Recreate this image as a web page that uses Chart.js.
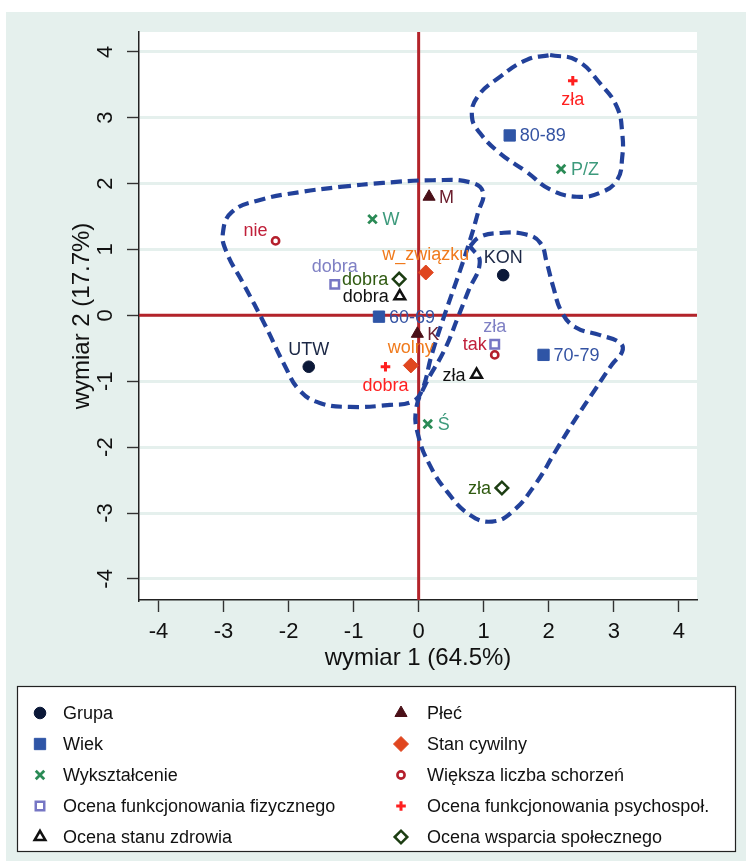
<!DOCTYPE html>
<html><head><meta charset="utf-8">
<script src="https://cdn.jsdelivr.net/npm/chart.js@4.4.1/dist/chart.umd.min.js"></script>
<style>html,body{margin:0;padding:0;background:#fff}</style>
</head><body>
<canvas id="c" width="746" height="861"></canvas>
<script>
// ---------------- DATA ----------------
const xTicks = [-4, -3, -2, -1, 0, 1, 2, 3, 4];
const yTicks = [-4, -3, -2, -1, 0, 1, 2, 3, 4];
const xTitle = 'wymiar 1 (64.5%)';
const yTitle = 'wymiar 2 (17.7%)';

const seriesNames = ['Grupa', 'Wiek', 'Wykształcenie', 'Ocena funkcjonowania fizycznego', 'Ocena stanu zdrowia',
  'Płeć', 'Stan cywilny', 'Większa liczba schorzeń', 'Ocena funkcjonowania psychospoł.', 'Ocena wsparcia społecznego'];

const grupaCats = ['UTW', 'KON'];
const grupaX = [-1.69, 1.30];
const grupaY = [-0.78, 0.61];

const wiekCats = ['80-89', '60-69', '70-79'];
const wiekX = [1.40, -0.61, 1.92];
const wiekY = [2.73, -0.02, -0.60];

const wyksztCats = ['W', 'P/Z', 'Ś'];
const wyksztX = [-0.71, 2.19, 0.14];
const wyksztY = [1.46, 2.22, -1.65];

const fizCats = ['dobra', 'zła'];
const fizX = [-1.29, 1.17];
const fizY = [0.47, -0.44];

const zdrowieCats = ['dobra', 'zła'];
const zdrowieX = [-0.29, 0.89];
const zdrowieY = [0.29, -0.90];

const plecCats = ['M', 'K'];
const plecX = [0.16, -0.02];
const plecY = [1.80, -0.28];

const stanCats = ['w_związku', 'wolny'];
const stanX = [0.11, -0.12];
const stanY = [0.65, -0.76];

const schorzenCats = ['nie', 'tak'];
const schorzenX = [-2.20, 1.17];
const schorzenY = [1.13, -0.60];

const psychCats = ['zła', 'dobra'];
const psychX = [2.37, -0.51];
const psychY = [3.56, -0.78];

const wsparcieCats = ['dobra', 'zła'];
const wsparcieX = [-0.30, 1.28];
const wsparcieY = [0.55, -2.62];

// hand-drawn cluster outlines (data units)
const clusterAX = [-1.21, -0.55, 0.22, 0.79, 0.99, 0.91, 0.79, 0.64, 0.40, 0.20, 0.05, -0.10, -0.44, -1.06, -1.52, -1.83, -2.06, -2.36, -2.70, -2.95, -3.01, -2.87, -2.44, -1.83, -1.21];
const clusterAY = [1.95, 2.01, 2.05, 2.02, 1.87, 1.55, 1.14, 0.69, 0.01, -0.60, -1.14, -1.31, -1.36, -1.39, -1.33, -1.14, -0.76, -0.15, 0.49, 0.95, 1.25, 1.57, 1.75, 1.87, 1.95];
const clusterBX = [0.79, 0.94, 1.25, 1.64, 1.87, 1.97, 2.07, 2.20, 2.41, 2.79, 3.10, 3.13, 2.97, 2.71, 2.40, 2.10, 1.79, 1.44, 1.13, 0.79, 0.44, 0.17, -0.01, -0.04, 0.10, 0.40, 0.60, 0.76, 0.94, 0.79];
const clusterBY = [1.05, 1.19, 1.25, 1.23, 1.10, 0.80, 0.43, 0.05, -0.18, -0.30, -0.42, -0.55, -0.75, -1.13, -1.59, -2.07, -2.57, -2.98, -3.13, -3.03, -2.68, -2.27, -1.81, -1.43, -1.06, -0.52, -0.04, 0.36, 0.81, 1.05];
const clusterCX = [2.02, 2.43, 2.79, 3.05, 3.13, 3.13, 3.05, 2.79, 2.43, 2.02, 1.67, 1.25, 0.94, 0.82, 0.90, 1.25, 1.67, 2.02];
const clusterCY = [3.95, 3.87, 3.52, 3.16, 2.77, 2.40, 2.05, 1.86, 1.80, 1.91, 2.17, 2.46, 2.77, 3.01, 3.31, 3.62, 3.88, 3.95];

// ---------------- STYLES ----------------
const FONT = '"Liberation Sans", Arial, Helvetica, sans-serif';
const TEAL = '#e5f0ed';
const PLACE = {
  right: {align: 'left', dx: 10, dy: 1},
  left: {align: 'right', dx: -11, dy: 1},
  above: {align: 'center', dx: 0, dy: -17},
  below: {align: 'center', dx: 0, dy: 19},
  upleft: {align: 'right', dx: -8, dy: -10}
};
const series = [
  {cats: grupaCats, xs: grupaX, ys: grupaY, style: 'circle', r: 5.8, bw: 1, fill: '#0b1838', stroke: '#0b1838', label: '#1b2745', place: ['above', 'above']},
  {cats: wiekCats, xs: wiekX, ys: wiekY, style: 'rect', r: 8, bw: 1, fill: '#2f55a6', stroke: '#2f55a6', label: '#3453a3', place: ['right', 'right', 'right']},
  {cats: wyksztCats, xs: wyksztX, ys: wyksztY, style: 'crossRot', r: 6, bw: 2.8, fill: '#2a8a55', stroke: '#2a8a55', label: '#3d9a7c', place: ['right', 'right', 'right']},
  {cats: fizCats, xs: fizX, ys: fizY, style: 'rect', r: 6, bw: 2.5, fill: '#ffffff', stroke: '#7676c4', label: '#7f80c4', place: ['above', 'above']},
  {cats: zdrowieCats, xs: zdrowieX, ys: zdrowieY, style: 'triangle', r: 6.2, bw: 2.5, fill: '#ffffff', stroke: '#111111', label: '#111111', place: ['left', 'left']},
  {cats: plecCats, xs: plecX, ys: plecY, style: 'triangle', r: 7, bw: 1, fill: '#4a1018', stroke: '#4a1018', label: '#6a1c2c', place: ['right', 'right']},
  {cats: stanCats, xs: stanX, ys: stanY, style: 'rectRot', r: 7.5, bw: 1, fill: '#e0461f', stroke: '#e0461f', label: '#f07a1c', place: ['above', 'above']},
  {cats: schorzenCats, xs: schorzenX, ys: schorzenY, style: 'circle', r: 3.6, bw: 2.6, fill: '#ffffff', stroke: '#b41f2c', label: '#c0203a', place: ['upleft', 'upleft']},
  {cats: psychCats, xs: psychX, ys: psychY, style: 'cross', r: 4.8, bw: 3, fill: '#ff1f1f', stroke: '#ff1f1f', label: '#ff2020', place: ['below', 'below']},
  {cats: wsparcieCats, xs: wsparcieX, ys: wsparcieY, style: 'rectRot', r: 6.3, bw: 2.5, fill: '#ffffff', stroke: '#1c3d12', label: '#2f5a10', place: ['left', 'left']}
];
const clusters = [[clusterAX, clusterAY], [clusterBX, clusterBY], [clusterCX, clusterCY]];

const pointDatasets = series.map((s, i) => ({
  label: seriesNames[i],
  data: s.xs.map((x, j) => ({x: x, y: s.ys[j]})),
  pointStyle: s.style, pointRadius: s.r, pointBorderWidth: s.bw,
  pointBackgroundColor: s.fill, pointBorderColor: s.stroke,
  backgroundColor: s.fill, borderColor: s.stroke, showLine: false
}));
const clusterDatasets = clusters.map(c => ({
  label: 'cluster',
  data: c[0].map((x, j) => ({x: x, y: c[1][j]})),
  showLine: true, pointRadius: 0, borderColor: '#22419a', borderWidth: 4.2,
  borderDash: [11, 6], tension: 0.45, fill: false, borderCapStyle: 'butt'
}));

// ---------------- PLUGINS ----------------
const bgPlugin = {
  id: 'bg',
  beforeDraw(chart) {
    const {ctx, chartArea: a} = chart;
    ctx.save();
    ctx.fillStyle = '#ffffff'; ctx.fillRect(0, 0, chart.width, chart.height);
    ctx.fillStyle = TEAL; ctx.fillRect(6, 12, chart.width - 6, chart.height - 12);
    ctx.fillStyle = '#ffffff'; ctx.fillRect(a.left, a.top, a.right - a.left, a.bottom - a.top);
    ctx.restore();
  },
  beforeDatasetsDraw(chart) {
    const {ctx, chartArea: a, scales} = chart;
    const x0 = scales.x.getPixelForValue(0), y0 = scales.y.getPixelForValue(0);
    ctx.save();
    ctx.strokeStyle = '#b3232a'; ctx.lineWidth = 3;
    ctx.beginPath(); ctx.moveTo(x0, a.top); ctx.lineTo(x0, a.bottom); ctx.stroke();
    ctx.beginPath(); ctx.moveTo(a.left, y0); ctx.lineTo(a.right, y0); ctx.stroke();
    ctx.restore();
  },
  afterDatasetsDraw(chart) {
    const ctx = chart.ctx;
    ctx.save();
    ctx.font = '18px ' + FONT;
    ctx.textBaseline = 'middle';
    series.forEach((s, i) => {
      const meta = chart.getDatasetMeta(i);
      meta.data.forEach((pt, j) => {
        const p = PLACE[s.place[j]];
        ctx.fillStyle = s.label;
        ctx.textAlign = p.align;
        ctx.fillText(s.cats[j], pt.x + p.dx, pt.y + p.dy);
      });
    });
    ctx.restore();
  },
  afterDraw(chart) {
    const {ctx, chartArea: a, scales} = chart;
    ctx.save();
    // y tick labels (rotated)
    ctx.fillStyle = '#111'; ctx.font = '22px ' + FONT;
    ctx.textAlign = 'center'; ctx.textBaseline = 'middle';
    yTicks.forEach(v => {
      const py = scales.y.getPixelForValue(v);
      ctx.save(); ctx.translate(106, py); ctx.rotate(-Math.PI / 2);
      ctx.fillText(String(v), 0, 0); ctx.restore();
    });
    // axis titles
    ctx.font = '24px ' + FONT;
    ctx.fillText(xTitle, (a.left + a.right) / 2, 658);
    ctx.save(); ctx.translate(82, (a.top + a.bottom) / 2); ctx.rotate(-Math.PI / 2);
    ctx.fillText(yTitle, 0, 0); ctx.restore();
    // legend
    const L = {x: 17, y: 686, w: 718, h: 165};
    ctx.fillStyle = '#ffffff'; ctx.fillRect(L.x, L.y, L.w, L.h);
    ctx.strokeStyle = '#222'; ctx.lineWidth = 1.2; ctx.strokeRect(L.x + 0.5, L.y + 0.5, L.w, L.h);
    ctx.font = '18px ' + FONT; ctx.textAlign = 'left'; ctx.textBaseline = 'middle';
    series.forEach((s, i) => {
      const col = i < 5 ? 0 : 1, row = i % 5;
      const mx = col === 0 ? 40 : 401, tx = col === 0 ? 63 : 427;
      const my = 713 + row * 31;
      ctx.fillStyle = s.fill; ctx.strokeStyle = s.stroke; ctx.lineWidth = s.bw;
      Chart.helpers.drawPoint(ctx, {pointStyle: s.style, radius: s.r, rotation: 0, borderWidth: s.bw}, mx, my);
      ctx.fillStyle = '#111';
      ctx.fillText(seriesNames[i], tx, my + 1);
    });
    ctx.restore();
  }
};

// ---------------- CHART ----------------
new Chart(document.getElementById('c'), {
  type: 'scatter',
  data: {datasets: pointDatasets.concat(clusterDatasets)},
  options: {
    responsive: false, animation: false, events: [],
    layout: {padding: {top: 32, right: 49, left: 0, bottom: 201}},
    plugins: {legend: {display: false}, tooltip: {enabled: false}},
    scales: {
      x: {
        type: 'linear', min: -4.3, max: 4.28,
        afterFit(s) { s.height = 60; },
        afterBuildTicks(s) { s.ticks = xTicks.map(v => ({value: v})); },
        ticks: {font: {family: FONT, size: 22}, color: '#111', padding: 7, maxRotation: 0,
          callback: v => String(v)},
        grid: {drawOnChartArea: false, drawTicks: true, tickLength: 12, tickColor: '#333', tickWidth: 1.4},
        border: {display: true, color: '#222', width: 1.5}
      },
      y: {
        type: 'linear', min: -4.32, max: 4.30,
        afterFit(s) { s.width = 139; },
        afterBuildTicks(s) { s.ticks = yTicks.map(v => ({value: v})); },
        ticks: {display: false},
        grid: {color: TEAL, lineWidth: 3, drawTicks: true, tickLength: 12, tickColor: '#333', tickWidth: 1.4},
        border: {display: true, color: '#222', width: 1.5}
      }
    }
  },
  plugins: [bgPlugin]
});
</script>
</body></html>
